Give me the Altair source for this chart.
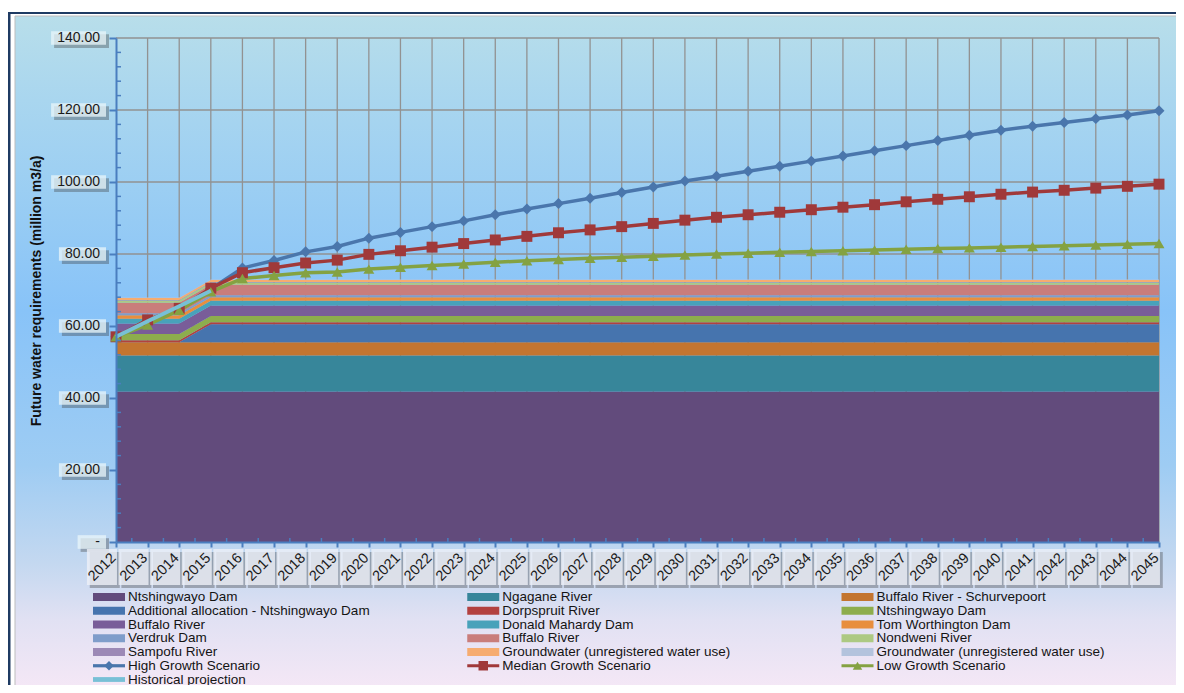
import altair as alt
import pandas as pd

# ---------------- data ----------------
years = list(range(2012, 2046))

area_names = [
    "Ntshingwayo Dam", "Ngagane River", "Buffalo River - Schurvepoort",
    "Additional allocation - Ntshingwayo Dam", "Dorpspruit River", " Ntshingwayo Dam",
    "Buffalo River", "Donald Mahardy Dam", "Tom Worthington Dam",
    "Verdruk Dam", "Buffalo River", " Nondweni River",
    " Sampofu River", " Groundwater (unregistered water use)", " Groundwater (unregistered water use)",
]
area_colors = [
    "#624B7C", "#37869A", "#C37530", "#4674AE", "#B3413F", "#8DAD4D",
    "#795D99", "#48A2BA", "#E88E3E", "#7F9DCA", "#C97D7B", "#ADC983",
    "#9C89B6", "#F6AC70", "#B3C3DD",
]

ntshingwayo_dam = [41.8] * 34
ngagane_river = [10.0] * 34
buffalo_schurvepoort = [3.7] * 34
additional_allocation = [0.0, 0.0, 0.0] + [5.0] * 31
dorpspruit_river = [0.55] * 34
ntshingwayo_dam_2 = [1.75] * 34
buffalo_river = [2.9] * 34
donald_mahardy_dam = [1.3] * 34
tom_worthington_dam = [1.0] * 34
verdruk_dam = [0.55] * 34
buffalo_river_2 = [2.9] * 34
nondweni_river = [0.6] * 34
sampofu_river = [0.2] * 34
groundwater_1 = [0.5] * 34
groundwater_2 = [0.15] * 34

area_values = [
    ntshingwayo_dam, ngagane_river, buffalo_schurvepoort, additional_allocation,
    dorpspruit_river, ntshingwayo_dam_2, buffalo_river, donald_mahardy_dam,
    tom_worthington_dam, verdruk_dam, buffalo_river_2, nondweni_river,
    sampofu_river, groundwater_1, groundwater_2,
]

line_names = ["High Growth Scenario", "Median Growth Scenario", "Low Growth Scenario", "Historical projection"]
line_colors = ["#4A76AC", "#A0393A", "#84A242", "#78C0D6"]
line_shapes = ["diamond", "square", "triangle-up"]

high_growth = [57.0, 61.6, 64.9, 70.3, 76.1, 78.2, 80.6, 82.1, 84.4, 86.0, 87.6, 89.2, 90.9, 92.5,
               94.0, 95.5, 97.1, 98.6, 100.3, 101.6, 103.0, 104.4, 105.8, 107.2, 108.7, 110.1,
               111.5, 113.0, 114.4, 115.5, 116.5, 117.6, 118.6, 119.8]
median_growth = [57.0, 61.7, 64.9, 70.5, 74.8, 76.2, 77.5, 78.3, 79.9, 80.9, 81.9, 82.9, 83.9, 84.9,
                 85.9, 86.7, 87.6, 88.5, 89.4, 90.2, 90.9, 91.6, 92.3, 93.0, 93.7, 94.5,
                 95.2, 95.9, 96.6, 97.2, 97.7, 98.3, 98.8, 99.4]
low_growth = [57.0, 60.3, 64.4, 69.5, 73.2, 74.0, 74.8, 75.0, 75.8, 76.3, 76.8, 77.2, 77.7, 78.1,
              78.5, 78.8, 79.1, 79.4, 79.7, 80.0, 80.2, 80.5, 80.7, 80.9, 81.1, 81.3,
              81.5, 81.7, 81.9, 82.1, 82.3, 82.5, 82.7, 82.9]
hist_years = [2012, 2013, 2014, 2015]
historical = [57.0, 61.3, 65.5, 69.8]

y_ticks = [0, 20, 40, 60, 80, 100, 120, 140]
y_tick_labels = ["-", "20.00", "40.00", "60.00", "80.00", "100.00", "120.00", "140.00"]
y_title = "Future water requirements (million m3/a)"

# ---------------- tables ----------------
FONT = "Liberation Sans"
W, H = 1043, 504
AXIS_BLUE = "#4A7EBF"
GRID = "#929292"

area_keys = [f"a{i:02d}" for i in range(len(area_names))]
line_keys = [f"l{i}" for i in range(len(line_names))]

area_df = pd.DataFrame([
    {"key": area_keys[i], "idx": i, "year": y, "value": v}
    for i, vals in enumerate(area_values) for y, v in zip(years, vals)
])
scen_df = pd.DataFrame([
    {"key": line_keys[i], "idx": i, "year": y, "value": v}
    for i, vals in enumerate([high_growth, median_growth, low_growth]) for y, v in zip(years, vals)
])
hist_df = pd.DataFrame({"key": line_keys[3], "year": hist_years, "value": historical})

XS = alt.Scale(domain=[2012, 2045], nice=False, zero=False)
YS = alt.Scale(domain=[0, 140], nice=False, zero=False)
CS = alt.Scale(domain=area_keys + line_keys, range=area_colors + line_colors)
SS = alt.Scale(domain=line_keys[:3], range=line_shapes)

# background panel
grad = {"gradient": "linear", "x1": 0, "x2": 0, "y1": 0, "y2": 1,
        "stops": [
            {"offset": 0.0, "color": "#B8DEEA"},
            {"offset": 0.12, "color": "#A9D6EF"},
            {"offset": 0.42, "color": "#88C3F8"},
            {"offset": 0.64, "color": "#9ECCF3"},
            {"offset": 0.78, "color": "#C4D8F0"},
            {"offset": 0.86, "color": "#E1E1F3"},
            {"offset": 1.0, "color": "#FDEAF7"},
        ]}
one = pd.DataFrame({"k": [0]})
panel = alt.Chart(one).mark_rect(color=grad, stroke="#BDBDBD", strokeWidth=1).encode(
    x=alt.value(-101), x2=alt.value(1090), y=alt.value(-22), y2=alt.value(680))
navy_top = alt.Chart(one).mark_rect(color="#1F3B63").encode(
    x=alt.value(-108), x2=alt.value(1090), y=alt.value(-26), y2=alt.value(-24))
navy_left = alt.Chart(one).mark_rect(color="#1F3B63").encode(
    x=alt.value(-108), x2=alt.value(-105.5), y=alt.value(-26), y2=alt.value(680))

# grid
vgrid = alt.Chart(pd.DataFrame({"year": years[1:]})).mark_rule(color=GRID, strokeWidth=1.3).encode(
    x=alt.X("year:Q", scale=XS, axis=None), y=alt.value(0), y2=alt.value(H))
hgrid = alt.Chart(pd.DataFrame({"v": y_ticks[1:]})).mark_rule(color=GRID, strokeWidth=1.3).encode(
    y=alt.Y("v:Q", scale=YS, axis=None), x=alt.value(0), x2=alt.value(W))

# stacked areas
areas = alt.Chart(area_df).mark_area(opacity=1, interpolate="linear").encode(
    x=alt.X("year:Q", scale=XS, axis=alt.Axis(values=years, labels=False, grid=False, title=None,
            tickSize=5, tickColor=AXIS_BLUE, tickWidth=2, domainColor=AXIS_BLUE, domainWidth=2, zindex=1)),
    y=alt.Y("value:Q", stack="zero", scale=YS, axis=alt.Axis(values=y_ticks, labels=False, grid=False, title=None,
            tickSize=7, tickColor=AXIS_BLUE, tickWidth=2, domainColor=AXIS_BLUE, domainWidth=2, zindex=1)),
    color=alt.Color("key:N", scale=CS, legend=None),
    order=alt.Order("idx:Q", sort="ascending"),
)

# scenario lines
scen_lines = alt.Chart(scen_df).mark_line(strokeWidth=3.5).encode(
    x=alt.X("year:Q", scale=XS, axis=None),
    y=alt.Y("value:Q", scale=YS, axis=None),
    color=alt.Color("key:N", scale=CS, legend=None),
    detail="key:N",
)
scen_pts = alt.Chart(scen_df).mark_point(filled=True, size=120, opacity=1).encode(
    x=alt.X("year:Q", scale=XS, axis=None),
    y=alt.Y("value:Q", scale=YS, axis=None),
    color=alt.Color("key:N", scale=CS, legend=None),
    shape=alt.Shape("key:N", scale=SS, legend=None),
)
hist_line = alt.Chart(hist_df).mark_line(strokeWidth=4).encode(
    x=alt.X("year:Q", scale=XS, axis=None),
    y=alt.Y("value:Q", scale=YS, axis=None),
    color=alt.Color("key:N", scale=CS, legend=None),
)

# minor ticks
minor_y = alt.Chart(pd.DataFrame({"v": [v for v in range(4, 140, 4) if v % 20]})).mark_rule(
    color=AXIS_BLUE, strokeWidth=1.5).encode(
    y=alt.Y("v:Q", scale=YS, axis=None), x=alt.value(0), x2=alt.value(5))
minor_x = alt.Chart(pd.DataFrame({"year": [y + 0.5 for y in years[:-1]]})).mark_rule(
    color=AXIS_BLUE, strokeWidth=1.5).encode(
    x=alt.X("year:Q", scale=XS, axis=None), y=alt.value(H - 4), y2=alt.value(H))


# y tick label boxes
def text_w(s):
    return sum(7.8 if c.isdigit() else (4.7 if c == "-" else 3.9) for c in s)


ylab = pd.DataFrame({"v": y_ticks, "label": [l if l != "-" else "-\u00a0\u00a0\u00a0" for l in y_tick_labels]})
ylab["bx2"] = -10.0
ylab["bx1"] = ylab["bx2"] - ylab["label"].map(text_w) - 12
ylab["sx1"] = ylab["bx1"] + 3
ylab["sx2"] = ylab["bx2"] + 3
ylab["y1"] = ylab["v"] - 1.9
ylab["y2"] = ylab["v"] + 1.9
ylab["sy1"] = ylab["y1"] - 0.85
ylab["sy2"] = ylab["y2"] - 0.85

ybox_sh = alt.Chart(ylab).mark_rect(color="#3A3A3A", opacity=0.35).encode(
    x=alt.X("sx1:Q", scale=None), x2="sx2:Q",
    y=alt.Y("sy1:Q", scale=YS, axis=None), y2="sy2:Q")
ybox = alt.Chart(ylab).mark_rect(color="#EAF5FA", opacity=0.75).encode(
    x=alt.X("bx1:Q", scale=None), x2="bx2:Q",
    y=alt.Y("y1:Q", scale=YS, axis=None), y2="y2:Q")
ytext = alt.Chart(ylab).mark_text(align="right", baseline="middle", font=FONT, fontSize=14, color="#1A1A1A").encode(
    x=alt.value(-16), y=alt.Y("v:Q", scale=YS, axis=None), text="label:N")

# x tick label boxes
xlab = pd.DataFrame({"year": years})
xlab["label"] = xlab["year"].astype(str)
xlab["x1"] = xlab["year"] - 0.92
xlab["x2"] = xlab["year"] + 0.03
xlab["sx1"] = xlab["year"] - 0.83
xlab["sx2"] = xlab["year"] + 0.12
xlab["tx"] = xlab["year"] - 0.07

xbox_sh = alt.Chart(xlab).mark_rect(color="#3A3A3A", opacity=0.35).encode(
    x=alt.X("sx1:Q", scale=XS, axis=None), x2="sx2:Q", y=alt.value(514), y2=alt.value(550))
xbox = alt.Chart(xlab).mark_rect(color="#EEF0F8", opacity=0.8).encode(
    x=alt.X("x1:Q", scale=XS, axis=None), x2="x2:Q", y=alt.value(511), y2=alt.value(547))
xtext = alt.Chart(xlab).mark_text(angle=315, align="right", baseline="middle", font=FONT, fontSize=14.5,
                                  color="#1A1A1A").encode(
    x=alt.X("tx:Q", scale=XS, axis=None), y=alt.value(518), text="label:N")

# y title
ytitle = alt.Chart(pd.DataFrame({"t": [y_title]})).mark_text(
    angle=270, align="center", baseline="middle", font=FONT, fontSize=14, fontWeight="bold", color="#111111").encode(
    x=alt.value(-79), y=alt.value(H / 2 + 1), text="t:N")

# legend (3 columns, row-wise)
leg_names = area_names + line_names
leg_keys = area_keys + line_keys
leg = pd.DataFrame({
    "key": leg_keys,
    "label": [("\u00a0" + n[1:]) if n.startswith(" ") else n for n in leg_names],
    "kind": ["area"] * len(area_names) + ["line"] * 3 + ["hist"],
})
leg["row"] = [i // 3 for i in range(len(leg))]
leg["col"] = [i % 3 for i in range(len(leg))]

LX = alt.Scale(domain=[0, 2], range=[-7, 741.5])
LY = alt.Scale(domain=[0, 6], range=[559.0, 641.5])
lx = alt.X("col:Q", scale=LX, axis=None)
ly = alt.Y("row:Q", scale=LY, axis=None)

leg_area = alt.Chart(leg).transform_filter("datum.kind == 'area'").mark_point(
    shape="M-1,-0.25L1,-0.25L1,0.25L-1,0.25Z", size=1024, filled=True, opacity=1, strokeWidth=0).encode(
    x=lx, y=ly, color=alt.Color("key:N", scale=CS, legend=None))
leg_line = alt.Chart(leg).transform_filter("datum.kind == 'line'").mark_point(
    shape="M-1,-0.1L1,-0.1L1,0.1L-1,0.1Z", size=1024, filled=True, opacity=1, strokeWidth=0).encode(
    x=lx, y=ly, color=alt.Color("key:N", scale=CS, legend=None))
leg_hist = alt.Chart(leg).transform_filter("datum.kind == 'hist'").mark_point(
    shape="M-1,-0.15L1,-0.15L1,0.15L-1,0.15Z", size=1024, filled=True, opacity=1, strokeWidth=0).encode(
    x=lx, y=ly, color=alt.Color("key:N", scale=CS, legend=None))
leg_mark = alt.Chart(leg).transform_filter("datum.kind == 'line'").mark_point(
    filled=True, size=90, opacity=1).encode(
    x=lx, y=ly, color=alt.Color("key:N", scale=CS, legend=None),
    shape=alt.Shape("key:N", scale=SS, legend=None))
leg_text = alt.Chart(leg).mark_text(align="left", baseline="middle", dx=19, font=FONT, fontSize=13.5,
                                    color="#141414").encode(x=lx, y=ly, text="label:N")

chart = alt.layer(
    panel, navy_top, navy_left, vgrid, hgrid, areas, scen_lines, scen_pts, hist_line,
    minor_y, minor_x, ybox_sh, ybox, ytext, xbox_sh, xbox, xtext, ytitle,
    leg_area, leg_line, leg_hist, leg_mark, leg_text,
).resolve_scale(x="independent", y="independent").properties(
    width=W, height=H,
    padding={"left": 108, "top": 30, "right": 17, "bottom": 143},
    autosize=alt.AutoSizeParams(type="none"),
    background="white",
).configure_view(stroke=None)

chart.save("out.html", embed_options={"renderer": "svg", "actions": False})
